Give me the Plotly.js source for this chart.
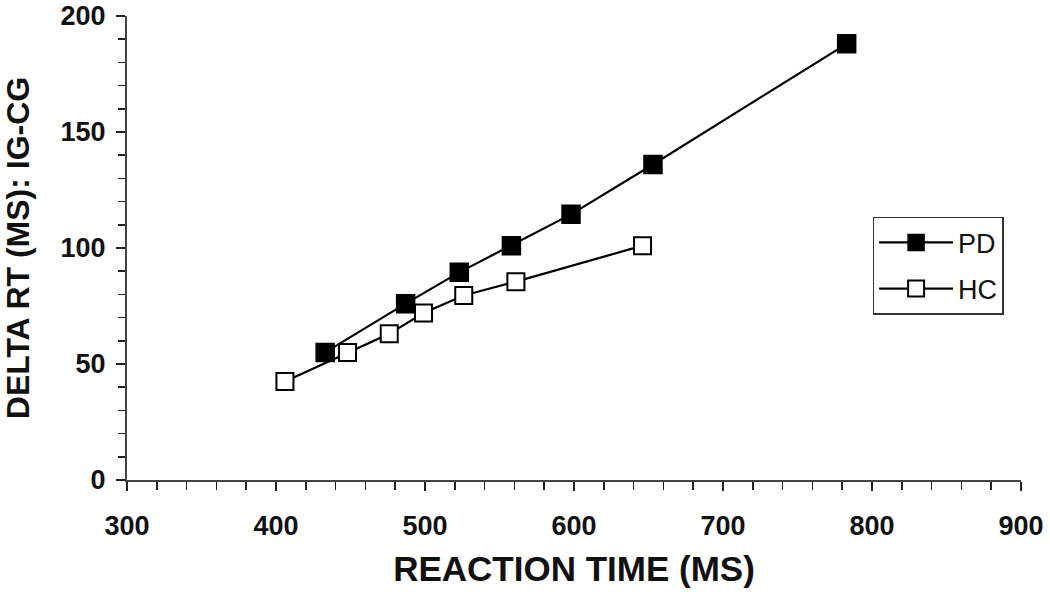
<!DOCTYPE html>
<html>
<head>
<meta charset="utf-8">
<script src="https://cdn.plot.ly/plotly-3.0.1.min.js"></script>
<style>html,body{margin:0;padding:0;background:#fff;}#chart{width:1050px;height:592px;}</style>
</head>
<body>
<div id="chart"></div>
<script>
const pdX = [433, 487, 523, 558, 598, 653, 783];
const pdY = [55, 76, 89.5, 101, 114.5, 136, 188];
const hcX = [406, 448, 476, 499, 526, 561, 646];
const hcY = [42.5, 55, 63, 72, 79.5, 85.5, 101];
const seriesNames = ['PD', 'HC'];
const xTicks = [300, 400, 500, 600, 700, 800, 900];
const yTicks = [0, 50, 100, 150, 200];

const traces = [
  {x: pdX, y: pdY, name: seriesNames[0], type: 'scatter', mode: 'lines+markers', legendgroup: 'a',
   line: {color: '#000', width: 2.2},
   marker: {symbol: 'square', size: 18, color: '#000', line: {color: '#000', width: 1.5}}},
  {x: hcX, y: hcY, name: seriesNames[1], type: 'scatter', mode: 'lines+markers', legendgroup: 'b',
   line: {color: '#000', width: 2.2},
   marker: {symbol: 'square', size: 17, color: '#fff', line: {color: '#000', width: 2}}}
];

const fontFam = '"Liberation Sans", Arial, sans-serif';
const layout = {
  width: 1050, height: 592,
  margin: {l: 127, r: 29, t: 16, b: 112},
  paper_bgcolor: '#fff', plot_bgcolor: '#fff',
  showlegend: true,
  legend: {x: 0.834, y: 0.567, xanchor: 'left', yanchor: 'top',
    bordercolor: '#333', borderwidth: 1.5, bgcolor: '#fff',
    font: {family: fontFam, size: 27, color: '#111'},
    itemwidth: 74,
    tracegroupgap: 8, traceorder: 'grouped'},
  xaxis: {
    range: [300, 900], tickvals: xTicks, ticktext: xTicks.map(String),
    showgrid: false, zeroline: false, showline: true, linecolor: '#444', linewidth: 2,
    ticks: 'outside', ticklen: 9, tickwidth: 1.5, tickcolor: '#222', ticklabelstandoff: 12,
    minor: {dtick: 20, ticks: 'outside', ticklen: 8, tickwidth: 1.5, tickcolor: '#222'},
    tickfont: {family: fontFam, size: 27, color: '#111', weight: 'bold'},
    title: {text: '<b>REACTION TIME (MS)</b>', font: {family: fontFam, size: 35, color: '#111'}, standoff: 16}
  },
  yaxis: {
    range: [0, 200], tickvals: yTicks, ticktext: yTicks.map(String),
    showgrid: false, zeroline: false, showline: true, linecolor: '#444', linewidth: 2,
    ticks: 'outside', ticklen: 9, tickwidth: 1.5, tickcolor: '#222', ticklabelstandoff: 5,
    minor: {dtick: 10, ticks: 'outside', ticklen: 7, tickwidth: 1.5, tickcolor: '#222'},
    tickfont: {family: fontFam, size: 27, color: '#111', weight: 'bold'},
    title: {text: '<b>DELTA RT (MS): IG-CG</b>', font: {family: fontFam, size: 32, color: '#111'}, standoff: 28}
  }
};

Plotly.newPlot('chart', traces, layout, {displayModeBar: false, staticPlot: true});
</script>
</body>
</html>
